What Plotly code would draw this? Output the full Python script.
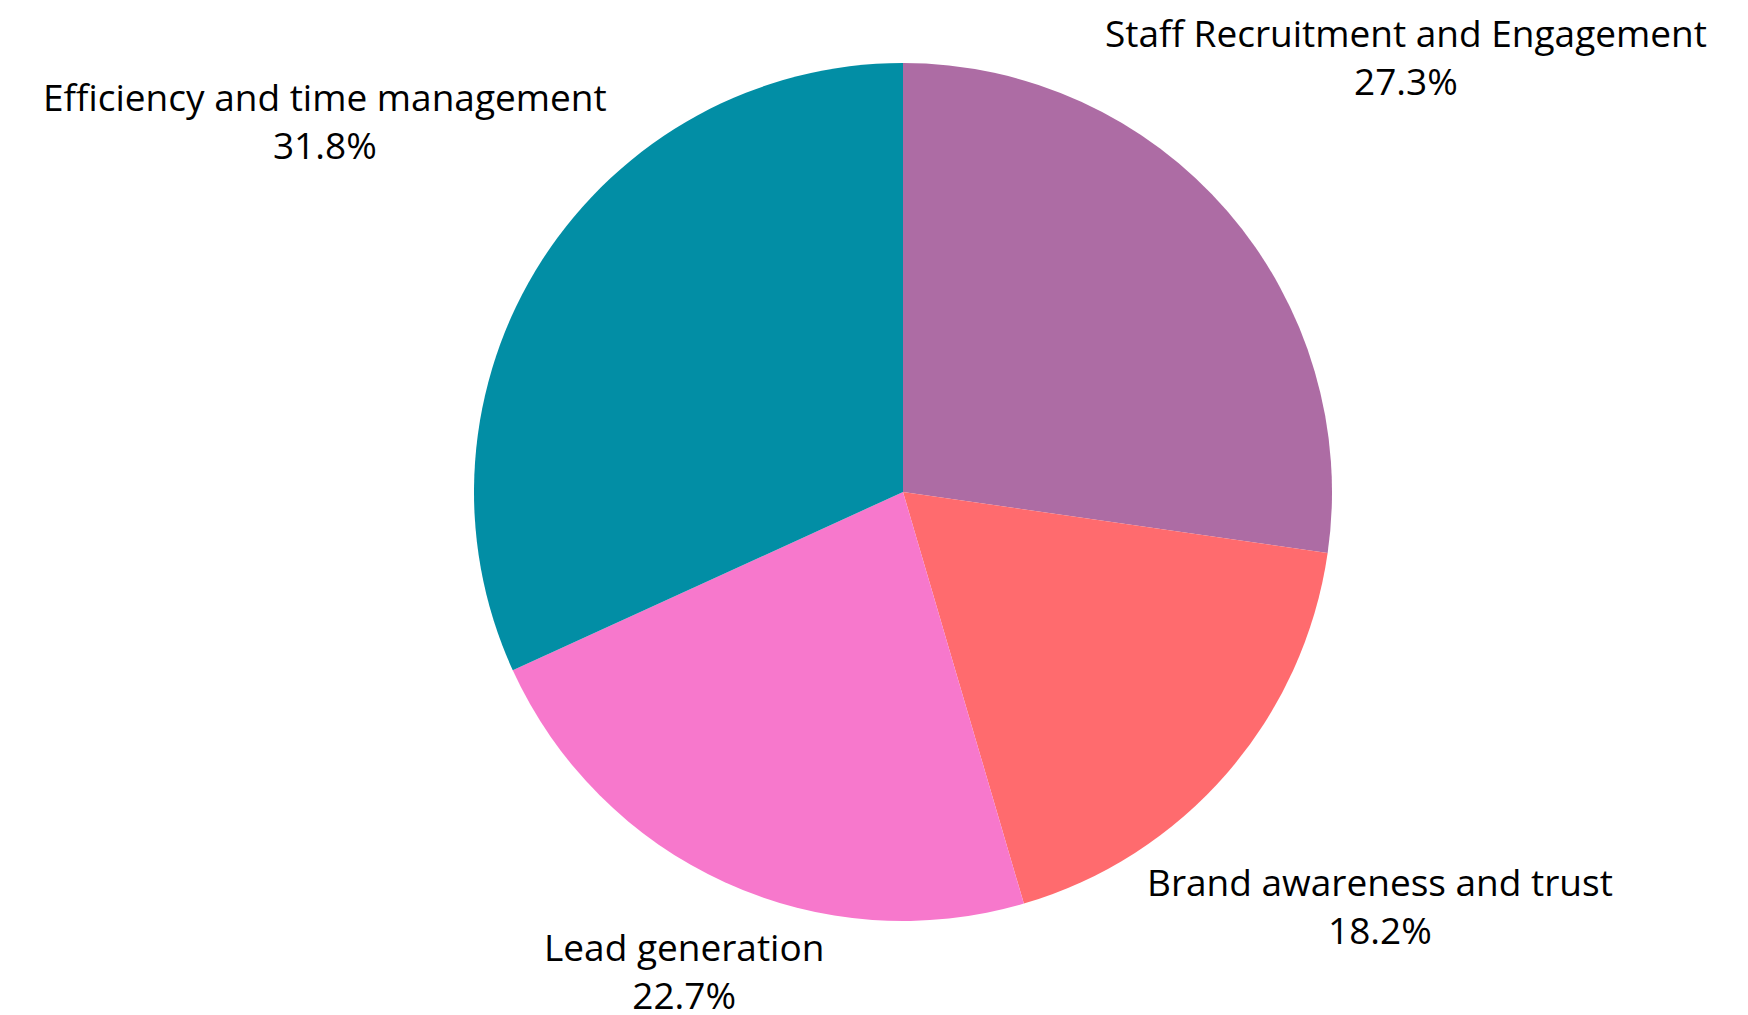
import math
import plotly.graph_objects as go

labels = ["Staff Recruitment and Engagement", "Brand awareness and trust",
          "Lead generation", "Efficiency and time management"]
values = [6, 4, 5, 7]
colors = ["#AD6CA4", "#FF6B6E", "#F778CC", "#028EA5"]

W, H = 1748, 1015
L, T, SIDE = 466, 55, 858  # square pie domain in pixels
R = W - L - SIDE
B = H - T - SIDE

FONT = 37
CHAR_W = 0.503 * FONT   # approx. average glyph width
LINE_H = 1.3 * FONT
CAP_H = 0.714 * FONT

fig = go.Figure(go.Pie(
    labels=labels,
    values=values,
    sort=False,
    direction="clockwise",
    rotation=0,
    marker=dict(colors=colors, line=dict(width=0)),
    textinfo="none",
    showlegend=False,
    hoverinfo="label+percent",
))

# outside labels: text block centred on each slice's mid-angle ray,
# pushed out until its nearest corner clears the pie edge
total = sum(values)
radius = SIDE / 2
clear = 1.045 * radius
cum = 0.0
annotations = []
for lab, v in zip(labels, values):
    mid = (cum + v / 2) / total * 2 * math.pi
    cum += v
    ux, uy = math.sin(mid), math.cos(mid)
    pct = f"{v / total * 100:.1f}%"
    w = max(len(lab), len(pct)) * CHAR_W
    h = LINE_H + CAP_H
    a = math.copysign(w / 2, ux)
    b = math.copysign(h / 2, uy)
    p = ux * a + uy * b
    t = p + math.sqrt(p * p - (a * a + b * b - clear * clear))
    annotations.append(dict(
        x=0.5 + t * ux / SIDE, y=0.5 + t * uy / SIDE,
        xref="paper", yref="paper",
        text=f"{lab}<br>{pct}",
        showarrow=False, align="center",
        xanchor="center", yanchor="middle",
        font=dict(family="Open Sans", size=FONT, color="#000000"),
    ))

fig.update_layout(
    width=W, height=H,
    margin=dict(l=L, r=R, t=T, b=B),
    paper_bgcolor="white",
    plot_bgcolor="white",
    annotations=annotations,
)

fig.write_html("out.html")
